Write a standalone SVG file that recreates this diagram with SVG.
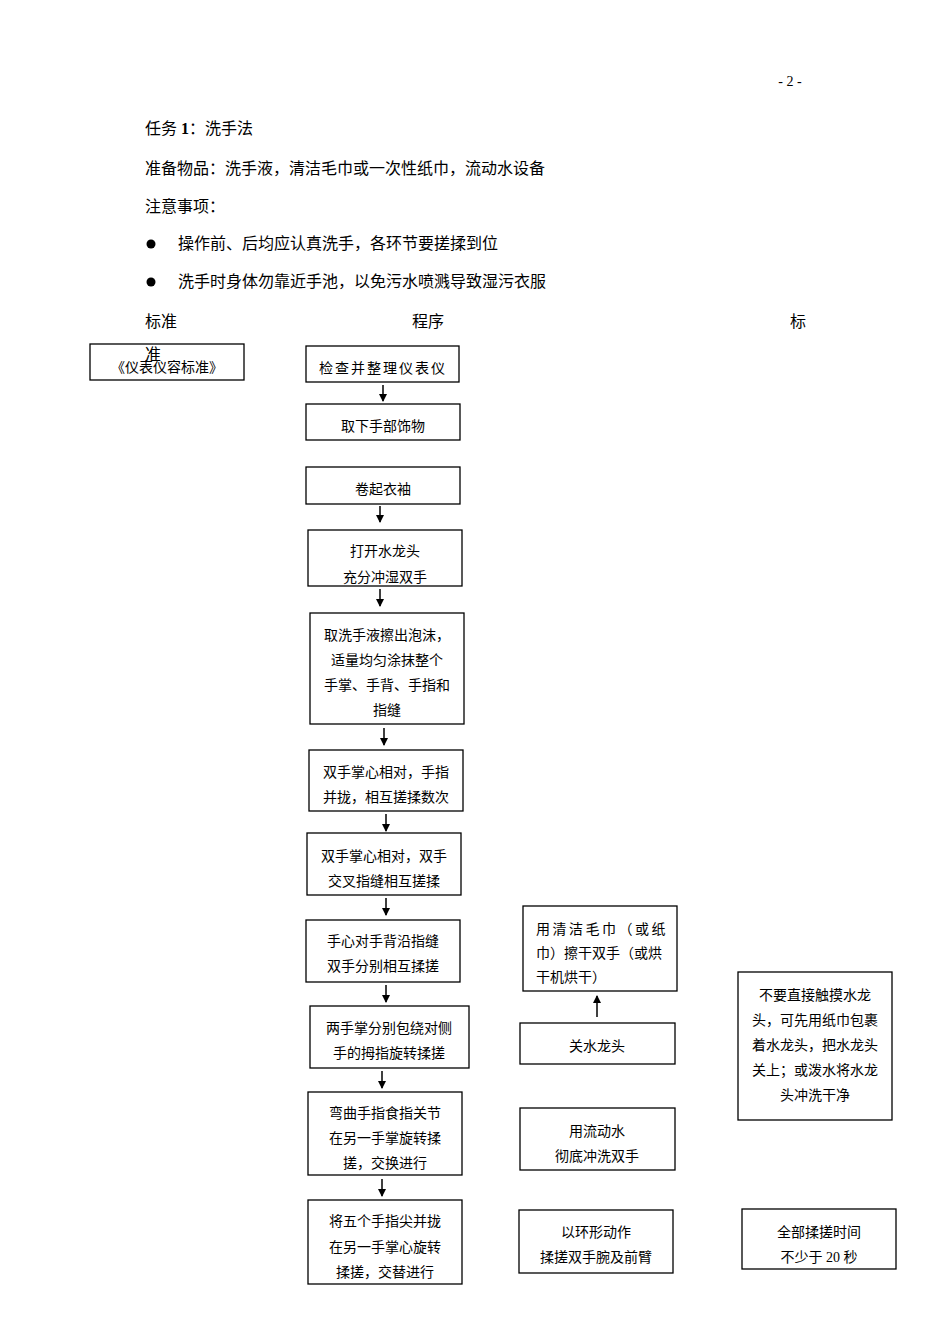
<svg xmlns="http://www.w3.org/2000/svg" width="950" height="1344" viewBox="0 0 950 1344">
<style>
text{font-family:"Liberation Serif","Noto Sans CJK SC",serif;fill:#000}
.h{font-size:16px}
.b{font-size:14px;text-anchor:middle}
rect{fill:#fff;stroke:#000;stroke-width:1.3}
.c line{stroke:#000;stroke-width:1.5}
</style>
<defs><marker id="a" markerWidth="8" markerHeight="8" refX="7" refY="4" orient="auto" markerUnits="userSpaceOnUse"><path d="M0,0 L8,4 L0,8 Z" fill="#000"/></marker></defs>
<rect x="0" y="0" width="950" height="1344" style="stroke:none"/>
<text x="790" y="86" class="h" text-anchor="middle" style="font-size:14px">- 2 -</text>
<text x="145" y="134" class="h">任务 <tspan font-weight="bold">1</tspan>：洗手法</text>
<text x="145" y="174" class="h">准备物品：洗手液，清洁毛巾或一次性纸巾，流动水设备</text>
<text x="145" y="212" class="h">注意事项：</text>
<circle cx="151" cy="244" r="4.5"/>
<text x="178" y="249" class="h">操作前、后均应认真洗手，各环节要搓揉到位</text>
<circle cx="151" cy="282" r="4.5"/>
<text x="178" y="287" class="h">洗手时身体勿靠近手池，以免污水喷溅导致湿污衣服</text>
<text x="145" y="327" class="h">标准</text>
<text x="412" y="327" class="h">程序</text>
<text x="790" y="327" class="h">标</text>
<g id="std"><rect x="90" y="344" width="154" height="36"/><text x="167" y="372" class="b">《仪表仪容标准》</text><text x="145" y="360" class="h">准</text></g>
<g id="n1"><rect x="306" y="346" width="153" height="36"/><text x="383" y="373" class="b" letter-spacing="2">检查并整理仪表仪</text></g>
<g id="n2"><rect x="306" y="404" width="154" height="36"/><text x="383" y="431" class="b">取下手部饰物</text></g>
<g id="n3"><rect x="306" y="467" width="154" height="37"/><text x="383" y="494" class="b">卷起衣袖</text></g>
<g id="n4"><rect x="308" y="530" width="154" height="56"/><text x="385" y="556" class="b">打开水龙头</text><text x="385" y="582" class="b">充分冲湿双手</text></g>
<g id="n5"><rect x="310" y="613" width="154" height="111"/><text x="387" y="640" class="b">取洗手液擦出泡沫，</text><text x="387" y="665" class="b">适量均匀涂抹整个</text><text x="387" y="690" class="b">手掌、手背、手指和</text><text x="387" y="715" class="b">指缝</text></g>
<g id="n6"><rect x="309" y="750" width="154" height="61"/><text x="386" y="777" class="b">双手掌心相对，手指</text><text x="386" y="802" class="b">并拢，相互搓揉数次</text></g>
<g id="n7"><rect x="307" y="833" width="154" height="62"/><text x="384" y="861" class="b">双手掌心相对，双手</text><text x="384" y="886" class="b">交叉指缝相互搓揉</text></g>
<g id="n8"><rect x="306" y="920" width="154" height="62"/><text x="383" y="946" class="b">手心对手背沿指缝</text><text x="383" y="971" class="b">双手分别相互揉搓</text></g>
<g id="n9"><rect x="310" y="1006" width="159" height="62"/><text x="389" y="1033" class="b">两手掌分别包绕对侧</text><text x="389" y="1058" class="b">手的拇指旋转揉搓</text></g>
<g id="n10"><rect x="308" y="1092" width="154" height="83"/><text x="385" y="1118" class="b">弯曲手指食指关节</text><text x="385" y="1143" class="b">在另一手掌旋转揉</text><text x="385" y="1168" class="b">搓，交换进行</text></g>
<g id="n11"><rect x="308" y="1200" width="154" height="84"/><text x="385" y="1226" class="b">将五个手指尖并拢</text><text x="385" y="1252" class="b">在另一手掌心旋转</text><text x="385" y="1277" class="b">揉搓，交替进行</text></g>
<g id="r1"><rect x="523" y="906" width="154" height="85"/><text x="536" y="934" style="font-size:14px" letter-spacing="2.5">用清洁毛巾（或纸</text><text x="536" y="958" style="font-size:14px">巾）擦干双手（或烘</text><text x="536" y="982" style="font-size:14px">干机烘干）</text></g>
<g id="r2"><rect x="520" y="1023" width="155" height="41"/><text x="597" y="1051" class="b">关水龙头</text></g>
<g id="r3"><rect x="520" y="1108" width="155" height="62"/><text x="597" y="1136" class="b">用流动水</text><text x="597" y="1161" class="b">彻底冲洗双手</text></g>
<g id="r4"><rect x="519" y="1210" width="154" height="63"/><text x="596" y="1237" class="b">以环形动作</text><text x="596" y="1262" class="b">揉搓双手腕及前臂</text></g>
<g id="t1"><rect x="738" y="972" width="154" height="148"/><text x="815" y="1000" class="b">不要直接触摸水龙</text><text x="815" y="1025" class="b">头，可先用纸巾包裹</text><text x="815" y="1050" class="b">着水龙头，把水龙头</text><text x="815" y="1075" class="b">关上；或泼水将水龙</text><text x="815" y="1100" class="b">头冲洗干净</text></g>
<g id="t2"><rect x="742" y="1209" width="154" height="60"/><text x="819" y="1237" class="b">全部揉搓时间</text><text x="819" y="1262" class="b">不少于 20 秒</text></g>
<g class="c">
<line x1="383" y1="385" x2="383" y2="401" marker-end="url(#a)"/>
<line x1="380" y1="506" x2="380" y2="522" marker-end="url(#a)"/>
<line x1="380" y1="589" x2="380" y2="606" marker-end="url(#a)"/>
<line x1="384" y1="728" x2="384" y2="745" marker-end="url(#a)"/>
<line x1="386" y1="814" x2="386" y2="831" marker-end="url(#a)"/>
<line x1="386" y1="898" x2="386" y2="915" marker-end="url(#a)"/>
<line x1="386" y1="985" x2="386" y2="1002" marker-end="url(#a)"/>
<line x1="382" y1="1071" x2="382" y2="1088" marker-end="url(#a)"/>
<line x1="382" y1="1179" x2="382" y2="1196" marker-end="url(#a)"/>
<line x1="597" y1="1017" x2="597" y2="996" marker-end="url(#a)"/>
</g>
</svg>
